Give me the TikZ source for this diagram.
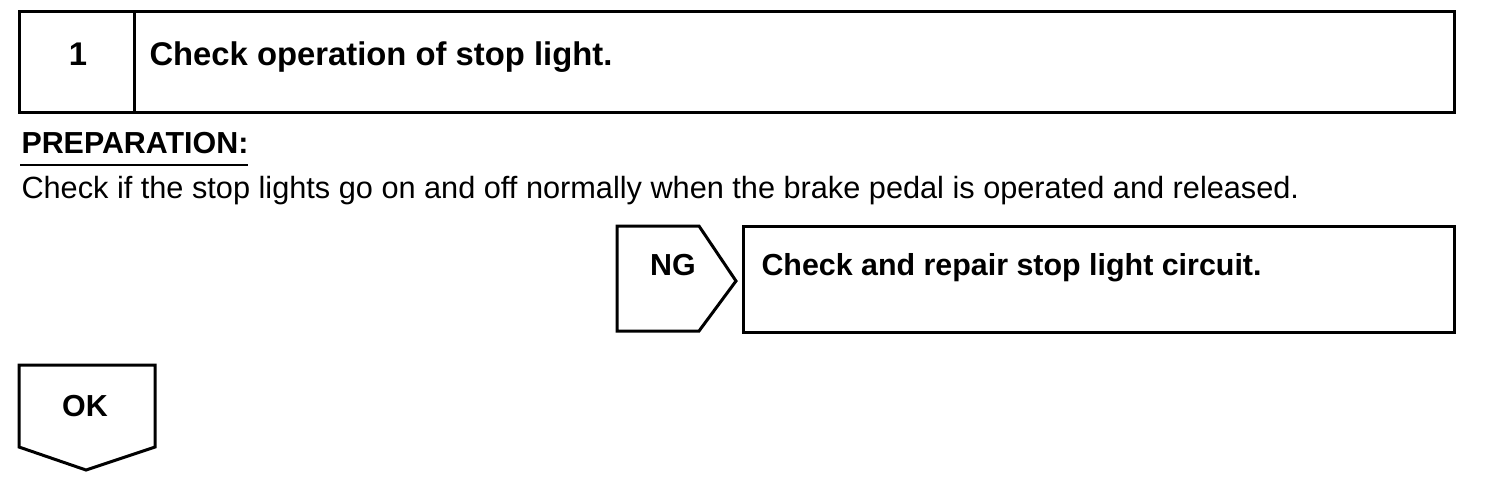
\documentclass[tikz,border=0pt]{standalone}
\usepackage{fontspec}
\setmainfont{Liberation Sans}
\usetikzlibrary{positioning}

\begin{document}
\begin{tikzpicture}[x=0.5pt, y=-0.5pt, line width=1.5pt,
    every node/.style={inner sep=0pt, anchor=base west},
    title/.style={font=\bfseries\fontsize{16.4}{20}\selectfont},
    label/.style={font=\bfseries\fontsize{15.2}{18}\selectfont},
    body/.style={font=\fontsize{15.35}{18}\selectfont}]
    \useasboundingbox (0,0) rectangle (1504,484);

    % Step header
    \draw (19,11) rectangle (1454,112);
    \draw (134,11) -- (134,112);
    \node[title, anchor=base] (num) at (78,65) {1};
    \node[title] (step) at (148,65) {Check operation of stop light.};

    % Preparation
    \node[label] (prep) at (20,153) {PREPARATION:};
    \draw[line width=1pt] (20,165) -- (248,165);
    \node[body] (desc) at (20,198) {Check if the stop lights go on and off normally when the brake pedal is operated and released.};

    % NG branch
    \draw (617,226) -- (699,226) -- (736,281) -- (699,331) -- (617,331) -- cycle;
    \node[label, anchor=base] (ng) at (673,275) {NG};
    \draw (743,226) rectangle (1454,332);
    \node[label] (repair) at (760,275) {Check and repair stop light circuit.};

    % OK branch
    \draw (19,365) -- (155,365) -- (155,447) -- (86,470) -- (19,447) -- cycle;
    \node[label, anchor=base] (ok) at (85,416) {OK};
\end{tikzpicture}
\end{document}
